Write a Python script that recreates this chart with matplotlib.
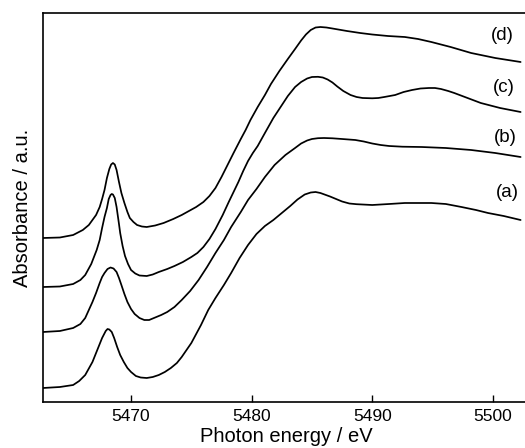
import matplotlib
matplotlib.use("Agg")
import matplotlib.pyplot as plt

plt.rcParams['font.family'] = ['Liberation Sans', 'DejaVu Sans']

# Spectrum (a)
energy_a = [5462.7, 5464.1, 5465.2, 5465.7, 5466.2, 5466.8, 5467.2, 5467.6, 5467.9, 5468.05,
            5468.2, 5468.4, 5468.6, 5468.85, 5469.1, 5469.4, 5469.7, 5470.0, 5470.4, 5470.8,
            5471.3, 5471.8, 5472.3, 5472.8, 5473.3, 5473.8, 5474.2, 5474.6, 5475.0, 5475.4,
            5475.8, 5476.4, 5477.0, 5477.7, 5478.3, 5479.0, 5479.7, 5480.4, 5481.1, 5481.8,
            5482.4, 5483.2, 5483.8, 5484.4, 5484.9, 5485.3, 5485.7, 5486.5, 5487.5, 5488.1,
            5488.7, 5490.0, 5491.4, 5492.7, 5494.9, 5496.1, 5497.4, 5498.6, 5499.6, 5500.9,
            5502.3]
absorb_a = [0.14, 0.15, 0.17, 0.21, 0.27, 0.40, 0.52, 0.64, 0.71, 0.73,
            0.725, 0.70, 0.64, 0.55, 0.47, 0.40, 0.34, 0.30, 0.26, 0.245,
            0.24, 0.25, 0.27, 0.30, 0.34, 0.39, 0.45, 0.52, 0.59, 0.68,
            0.77, 0.92, 1.04, 1.17, 1.29, 1.44, 1.57, 1.68, 1.76, 1.82,
            1.88, 1.96, 2.025, 2.075, 2.095, 2.10, 2.09, 2.055, 2.005, 1.985,
            1.978, 1.97, 1.98, 1.99, 1.99, 1.98, 1.95, 1.92, 1.89, 1.86,
            1.82]

# Spectrum (b)
energy_b = [5462.7, 5464.1, 5465.2, 5465.8, 5466.2, 5466.8, 5467.1, 5467.4, 5467.6, 5467.8,
            5468.05, 5468.3, 5468.55, 5468.8, 5469.0, 5469.2, 5469.45, 5469.7, 5470.0, 5470.3,
            5470.7, 5471.1, 5471.5, 5471.9, 5472.5, 5473.0, 5473.6, 5474.2, 5474.9, 5475.6,
            5476.3, 5477.0, 5477.7, 5478.3, 5479.1, 5479.7, 5480.4, 5481.1, 5481.9, 5482.8,
            5483.6, 5484.1, 5484.6, 5485.0, 5485.5, 5486.0, 5486.7, 5487.5, 5488.6, 5489.3,
            5490.0, 5490.7, 5491.4, 5492.5, 5494.1, 5496.1, 5498.2, 5500.2, 5502.3]
absorb_b = [0.70, 0.71, 0.74, 0.78, 0.84, 1.00, 1.09, 1.19, 1.25, 1.29,
            1.33, 1.345, 1.335, 1.30, 1.24, 1.17, 1.08, 1.00, 0.93, 0.88,
            0.84, 0.82, 0.82, 0.84, 0.87, 0.90, 0.95, 1.02, 1.11, 1.22,
            1.35, 1.49, 1.62, 1.75, 1.90, 2.02, 2.13, 2.25, 2.37, 2.47,
            2.54, 2.585, 2.615, 2.63, 2.638, 2.64, 2.637, 2.63, 2.62, 2.605,
            2.585, 2.57, 2.56, 2.553, 2.55, 2.54, 2.52, 2.49, 2.45]

# Spectrum (c)
energy_c = [5462.7, 5464.1, 5465.2, 5465.8, 5466.2, 5466.7, 5467.15, 5467.4, 5467.6, 5467.8,
            5468.0, 5468.15, 5468.3, 5468.4, 5468.5, 5468.65, 5468.8, 5469.0, 5469.1, 5469.3,
            5469.5, 5469.75, 5470.0, 5470.35, 5470.7, 5471.3, 5471.8, 5472.3, 5473.0, 5473.6,
            5474.3, 5475.0, 5475.5, 5476.0, 5476.5, 5477.0, 5477.6, 5478.1, 5478.5, 5478.9,
            5479.3, 5479.7, 5480.1, 5480.5, 5481.1, 5481.8, 5482.4, 5483.0, 5483.6, 5484.1,
            5484.6, 5485.0, 5485.5, 5485.9, 5486.3, 5486.7, 5487.1, 5487.6, 5488.2, 5488.7,
            5489.2, 5490.0, 5490.5, 5491.0, 5491.9, 5492.6, 5493.3, 5494.0, 5494.7, 5495.2,
            5495.7, 5496.3, 5496.8, 5497.9, 5499.0, 5500.6, 5502.3]
absorb_c = [1.15, 1.155, 1.18, 1.22, 1.27, 1.38, 1.52, 1.62, 1.74, 1.85,
            1.94, 2.03, 2.07, 2.08, 2.075, 2.04, 1.95, 1.78, 1.69, 1.56,
            1.46, 1.38, 1.32, 1.285, 1.265, 1.26, 1.275, 1.30, 1.33, 1.36,
            1.40, 1.45, 1.49, 1.55, 1.63, 1.73, 1.87, 2.00, 2.10, 2.20,
            2.31, 2.41, 2.49, 2.56, 2.69, 2.84, 2.95, 3.06, 3.15, 3.20,
            3.235, 3.25, 3.252, 3.245, 3.225, 3.195, 3.155, 3.11, 3.07, 3.05,
            3.04, 3.037, 3.04, 3.05, 3.07, 3.10, 3.12, 3.135, 3.14, 3.14,
            3.13, 3.11, 3.09, 3.04, 2.99, 2.94, 2.90]

# Spectrum (d)
energy_d = [5462.7, 5464.1, 5465.2, 5466.0, 5466.5, 5466.8, 5467.1, 5467.4, 5467.6, 5467.8,
            5468.0, 5468.2, 5468.35, 5468.5, 5468.65, 5468.8, 5469.0, 5469.2, 5469.45, 5469.7,
            5469.9, 5470.2, 5470.5, 5470.9, 5471.3, 5472.0, 5472.7, 5473.5, 5474.2, 5474.8,
            5475.4, 5476.0, 5476.5, 5477.0, 5477.5, 5478.0, 5478.5, 5479.1, 5479.5, 5479.9,
            5480.5, 5481.1, 5481.6, 5482.3, 5483.0, 5483.6, 5484.1, 5484.5, 5484.9, 5485.3,
            5485.7, 5486.2, 5486.7, 5487.9, 5489.0, 5490.0, 5491.3, 5492.7, 5493.8, 5494.9,
            5496.5, 5498.2, 5500.2, 5502.3]
absorb_d = [1.64, 1.645, 1.67, 1.72, 1.77, 1.82, 1.87, 1.95, 2.03, 2.12,
            2.24, 2.33, 2.375, 2.39, 2.375, 2.32, 2.20, 2.09, 1.99, 1.90,
            1.84, 1.80, 1.77, 1.755, 1.75, 1.765, 1.79, 1.83, 1.87, 1.91,
            1.95, 2.00, 2.06, 2.14, 2.25, 2.37, 2.49, 2.63, 2.72, 2.82,
            2.95, 3.07, 3.18, 3.31, 3.43, 3.53, 3.615, 3.675, 3.72, 3.745,
            3.75, 3.745, 3.735, 3.71, 3.69, 3.675, 3.66, 3.65, 3.63, 3.60,
            3.55, 3.49, 3.44, 3.40]

labels = ['(a)', '(b)', '(c)', '(d)']
label_energy = [5501.2, 5501.05, 5500.9, 5500.8]
label_absorb = [2.10, 2.65, 3.15, 3.67]
xticks = [5470, 5480, 5490, 5500]

fig = plt.figure(figsize=(5.25, 4.48), dpi=100)
ax = fig.add_axes([43/525, 46/448, 1 - 43/525 + 0.01, (402-13)/448])

for e, a in [(energy_a, absorb_a), (energy_b, absorb_b), (energy_c, absorb_c), (energy_d, absorb_d)]:
    ax.plot(e, a, color='black', lw=1.25, solid_joinstyle='round', solid_capstyle='round')

for t, x, y in zip(labels, label_energy, label_absorb):
    ax.text(x, y, t, ha='center', va='center', fontsize=13.5)

ax.set_xlim(5462.7, 5503.1)
ax.set_ylim(0, 3.89)
ax.set_xticks(xticks)
ax.set_xticklabels([str(t) for t in xticks])
ax.set_yticks([])
ax.tick_params(axis='x', direction='in', length=5, width=1.0, labelsize=12.5, pad=5)
ax.spines['right'].set_visible(False)
for s in ['left', 'top', 'bottom']:
    ax.spines[s].set_linewidth(1.2)
ax.set_xlabel('Photon energy / eV', fontsize=14.5, labelpad=2)
ax.set_ylabel('Absorbance / a.u.', fontsize=14.5, labelpad=8)

fig.savefig('out.png', dpi=100)
